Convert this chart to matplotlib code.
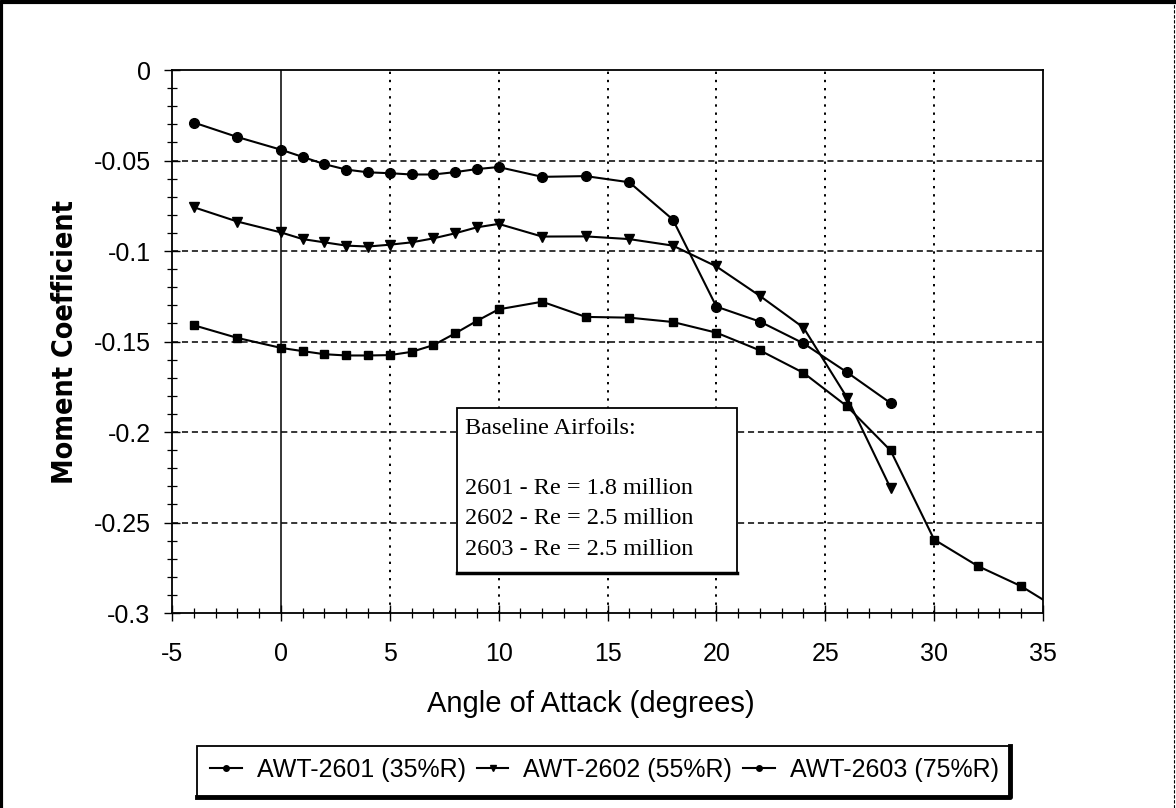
import matplotlib
matplotlib.use("Agg")
import matplotlib.pyplot as plt
from matplotlib.lines import Line2D
from matplotlib.patches import Rectangle
from matplotlib.ticker import MultipleLocator

# Angle of attack (degrees)
alpha_2601 = [-4, -2, 0, 1, 2, 3, 4, 5, 6, 7, 8, 9, 10, 12, 14, 16, 18, 20, 22, 24, 26, 28]
alpha_2602 = [-4, -2, 0, 1, 2, 3, 4, 5, 6, 7, 8, 9, 10, 12, 14, 16, 18, 20, 22, 24, 26, 28]
alpha_2603 = [-4, -2, 0, 1, 2, 3, 4, 5, 6, 7, 8, 9, 10, 12, 14, 16, 18, 20, 22, 24, 26, 28,
              30, 32, 34, 36]

# Moment coefficient
cm_2601 = [-0.029, -0.037, -0.044, -0.048, -0.052, -0.055, -0.0565, -0.057, -0.0577, -0.0577,
           -0.0564, -0.0547, -0.0536, -0.059, -0.0586, -0.062, -0.0826, -0.1307, -0.139,
           -0.151, -0.167, -0.184]
cm_2602 = [-0.0758, -0.0837, -0.0897, -0.0934, -0.0952, -0.097, -0.0975, -0.0965, -0.0952,
           -0.093, -0.0902, -0.0869, -0.085, -0.092, -0.0919, -0.0934, -0.097, -0.1085,
           -0.1248, -0.1423, -0.181, -0.231]
cm_2603 = [-0.141, -0.148, -0.1535, -0.1553, -0.157, -0.1577, -0.1577, -0.1575, -0.1557,
           -0.152, -0.1455, -0.1386, -0.1322, -0.128, -0.1364, -0.1368, -0.1392, -0.1451,
           -0.1549, -0.1673, -0.1858, -0.2102, -0.2594, -0.274, -0.2852, -0.300]

series_labels = ["AWT-2601 (35%R)", "AWT-2602 (55%R)", "AWT-2603 (75%R)"]
note_lines = ["Baseline Airfoils:", "", "2601 - Re = 1.8 million",
              "2602 - Re = 2.5 million", "2603 - Re = 2.5 million"]

sans = ["Liberation Sans", "DejaVu Sans"]
serif = ["Liberation Serif", "DejaVu Serif"]

fig = plt.figure(figsize=(11.76, 8.08), dpi=100)
ax = fig.add_axes([0.1463, 0.2413, 0.7406, 0.6720])

ax.plot(alpha_2601, cm_2601, color="black", lw=1.5, marker="o", ms=7, zorder=3)
ax.plot(alpha_2602, cm_2602, color="black", lw=1.5, marker="v", ms=7.5, zorder=3)
ax.plot(alpha_2603, cm_2603, color="black", lw=1.5, marker="s", ms=6, zorder=3)

ax.set_xlim(-5, 35)
ax.set_ylim(-0.3, 0)
ax.xaxis.set_minor_locator(MultipleLocator(1))
ax.yaxis.set_minor_locator(MultipleLocator(0.01))
ax.set_yticks([0, -0.05, -0.1, -0.15, -0.2, -0.25, -0.3])
ax.set_yticklabels(["0", "-0.05", "-0.1", "-0.15", "-0.2", "-0.25", "-0.3"])
ax.set_xticks(range(-5, 36, 5))
ax.set_xticklabels([str(v) for v in range(-5, 36, 5)])

ax.tick_params(which="major", direction="inout", length=11, width=1.0, labelsize=18, pad=10)
ax.tick_params(which="minor", direction="inout", length=7, width=0.9)
for lab in ax.get_xticklabels() + ax.get_yticklabels():
    lab.set_fontfamily(sans)
ax.tick_params(axis="x", pad=15)

for sp in ax.spines.values():
    sp.set_linewidth(1.3)

# grid: dashed horizontals, dotted verticals, solid line at zero angle
for yv in [-0.05, -0.1, -0.15, -0.2, -0.25]:
    ax.axhline(yv, color="black", lw=1.1, ls=(0, (4, 2.5)), zorder=1)
for xv in [5, 10, 15, 20, 25, 30]:
    ax.axvline(xv, color="black", lw=1.4, ls=(0, (1.2, 3)), zorder=1)
ax.axvline(0, color="black", lw=1.1, zorder=1)

ax.set_xlabel("Angle of Attack (degrees)", fontsize=21, family=sans)
ax.xaxis.set_label_coords(0.481, -0.142)
ax.set_ylabel("Moment Coefficient", fontsize=20.5, family="DejaVu Sans", fontweight="bold",
              fontstretch="condensed")
ax.yaxis.set_label_coords(-0.107, 0.5)

# note box inside the plot
ax.add_patch(Rectangle((0.327, 0.0737), 0.322, 0.304, transform=ax.transAxes,
                       facecolor="white", edgecolor="black", lw=1.3, zorder=4))
ax.plot([0.327, 0.649], [0.0737, 0.0737], transform=ax.transAxes, color="black",
        lw=2.5, zorder=5, clip_on=False)
ax.text(0.336, 0.359, "\n".join(note_lines), transform=ax.transAxes, ha="left", va="top",
        fontsize=17.5, family=serif, linespacing=1.57, zorder=6)

# legend panel under the plot
fig.add_artist(Rectangle((0.1675, 0.0136), 0.6913, 0.0631, transform=fig.transFigure,
                         facecolor="white", edgecolor="black", lw=1.3))
fig.add_artist(Line2D([0.1675, 0.8588, 0.8588], [0.0136, 0.0136, 0.0767],
                      transform=fig.transFigure, color="black", lw=3.5))
handles = [Line2D([], [], color="black", lw=1.5, marker=m, ms=4) for m in ["o", "v", "o"]]
fig.legend(handles, series_labels, loc="center", bbox_to_anchor=(0.514, 0.047), ncol=3,
           frameon=False, prop={"family": sans, "size": 18}, handlelength=1.25,
           handletextpad=0.6, columnspacing=0.45, borderpad=0.2)

# outer frame
fig.add_artist(Line2D([0.001, 0.001, 0.999], [0.0, 0.998, 0.998], transform=fig.transFigure,
                      color="black", lw=3))
fig.add_artist(Line2D([0.9985, 0.9985], [0.0, 0.998], transform=fig.transFigure,
                      color="black", lw=0.8, ls=(0, (3, 1.5))))

fig.savefig("out.png", dpi=100)
